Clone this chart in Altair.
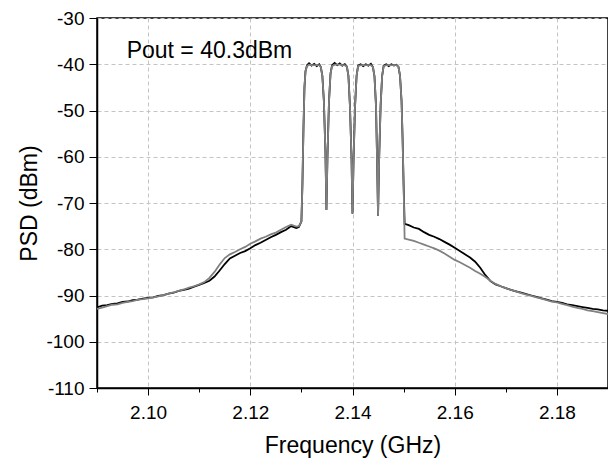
import altair as alt
import pandas as pd

# ---- data ----
# left skirt (GHz, dBm)
left_f = [2.090, 2.091, 2.092, 2.093, 2.094, 2.095, 2.096, 2.097, 2.098, 2.099,
          2.100, 2.101, 2.102, 2.103, 2.104, 2.105, 2.106, 2.107, 2.108, 2.109,
          2.110, 2.111, 2.112, 2.113, 2.114, 2.115, 2.116, 2.117, 2.118, 2.119,
          2.120, 2.121, 2.122, 2.123, 2.124, 2.125, 2.126, 2.127, 2.128, 2.129]
left_black = [-92.6, -92.2, -92.1, -91.8, -91.7, -91.4, -91.3, -91.0, -90.9, -90.7,
              -90.5, -90.4, -90.1, -89.9, -89.6, -89.4, -89.0, -88.8, -88.5, -88.1,
              -87.7, -87.3, -86.8, -85.9, -84.6, -83.2, -82.0, -81.4, -80.8, -80.4,
              -79.8, -79.1, -78.6, -78.0, -77.4, -76.9, -76.3, -75.8, -75.0, -75.4]
left_gray = [-92.9, -92.6, -92.3, -92.0, -91.9, -91.6, -91.4, -91.2, -90.9, -90.8,
             -90.6, -90.4, -90.2, -89.9, -89.6, -89.3, -89.0, -88.7, -88.3, -88.0,
             -87.6, -87.1, -86.2, -84.9, -83.3, -81.9, -81.1, -80.6, -80.0, -79.5,
             -78.8, -78.3, -77.7, -77.3, -76.8, -76.4, -75.8, -75.2, -74.7, -75.1]

# four-carrier band
band_f = [2.1295, 2.1300, 2.1302, 2.1304, 2.1306, 2.1308, 2.1311, 2.1315, 2.1320, 2.1325,
          2.1330, 2.1335, 2.1338, 2.1341, 2.1344, 2.1347, 2.1349, 2.1351, 2.1354, 2.1357,
          2.1360, 2.1365, 2.1370, 2.1375, 2.1380, 2.1385, 2.1389, 2.1392, 2.1395, 2.1398,
          2.1400, 2.1402, 2.1405, 2.1408, 2.1411, 2.1416, 2.1421, 2.1426, 2.1431, 2.1436,
          2.1440, 2.1443, 2.1446, 2.1448, 2.1450, 2.1452, 2.1455, 2.1458, 2.1461, 2.1466,
          2.1471, 2.1476, 2.1481, 2.1486, 2.1490, 2.1493, 2.1496, 2.1498, 2.1500, 2.1502]
band_black = [-75.2, -74.0, -66.0, -54.0, -45.0, -41.5, -40.2, -39.8, -40.3, -39.9,
              -40.4, -40.0, -40.6, -42.5, -48.0, -59.0, -71.5, -60.0, -48.0, -42.0,
              -40.2, -39.7, -40.2, -39.8, -40.3, -40.0, -40.5, -42.5, -49.0, -60.0,
              -72.3, -61.0, -49.0, -42.5, -40.3, -40.0, -40.4, -40.0, -40.3, -39.9,
              -40.6, -42.6, -49.0, -60.0, -72.8, -61.0, -49.0, -42.5, -40.3, -40.0,
              -40.4, -40.0, -40.3, -40.1, -40.6, -42.5, -48.0, -56.0, -66.0, -74.5]
band_gray = [-75.0, -74.0, -66.0, -54.0, -45.0, -41.5, -40.4, -40.1, -40.2, -40.2,
             -40.2, -40.2, -40.6, -42.5, -48.0, -59.0, -71.5, -60.0, -48.0, -42.0,
             -40.4, -40.1, -40.1, -40.1, -40.2, -40.2, -40.5, -42.5, -49.0, -60.0,
             -72.3, -61.0, -49.0, -42.5, -40.4, -40.2, -40.2, -40.2, -40.2, -40.2,
             -40.6, -42.6, -49.0, -60.0, -72.8, -61.0, -49.0, -42.5, -40.4, -40.2,
             -40.2, -40.2, -40.2, -40.2, -40.6, -42.5, -48.0, -56.0, -66.0, -77.7]

# right skirt
right_f = [2.151, 2.152, 2.153, 2.154, 2.155, 2.156, 2.157, 2.158, 2.159, 2.160,
           2.161, 2.162, 2.163, 2.164, 2.165, 2.166, 2.167, 2.168, 2.169, 2.170,
           2.171, 2.172, 2.173, 2.174, 2.175, 2.176, 2.177, 2.178, 2.179, 2.180,
           2.181, 2.182, 2.183, 2.184, 2.185, 2.186, 2.187, 2.188, 2.189, 2.190]
right_black = [-74.8, -75.3, -75.6, -76.3, -76.9, -77.3, -77.8, -78.4, -79.0, -79.7,
               -80.4, -81.1, -81.8, -82.7, -84.0, -85.6, -86.9, -87.6, -88.0, -88.4,
               -88.8, -89.1, -89.4, -89.7, -90.0, -90.3, -90.6, -90.9, -91.2, -91.4,
               -91.6, -91.9, -92.1, -92.3, -92.5, -92.7, -92.9, -93.0, -93.2, -93.3]
right_gray = [-77.9, -78.2, -78.6, -79.0, -79.4, -79.8, -80.3, -80.9, -81.6, -82.3,
              -82.8, -83.4, -84.0, -84.7, -85.3, -86.0, -86.8, -87.5, -88.0, -88.4,
              -88.8, -89.1, -89.5, -89.8, -90.1, -90.4, -90.7, -91.0, -91.3, -91.5,
              -91.8, -92.1, -92.4, -92.7, -92.9, -93.2, -93.4, -93.6, -93.8, -94.0]

x_ticks = [2.09, 2.10, 2.11, 2.12, 2.13, 2.14, 2.15, 2.16, 2.17, 2.18, 2.19]
y_ticks = [-110, -105, -100, -95, -90, -85, -80, -75, -70, -65, -60, -55, -50, -45, -40, -35, -30]

annot_text = ["Pout = 40.3dBm"]
annot_x = [2.0958]
annot_y = [-38.6]

# ---- tables ----
freq = left_f + band_f + right_f
df_black = pd.DataFrame({"f": freq, "psd": left_black + band_black + right_black})
df_gray = pd.DataFrame({"f": freq, "psd": left_gray + band_gray + right_gray})
df_annot = pd.DataFrame({"f": annot_x, "psd": annot_y, "t": annot_text})

FONT = "Liberation Sans"
x_major = "round(datum.value*100) % 2 == 0"
y_major = "datum.value % 10 == 0"

x_scale = alt.Scale(domain=[2.09, 2.19], nice=False, zero=False)
y_scale = alt.Scale(domain=[-110, -30], nice=False, zero=False)

x_axis = alt.Axis(
    values=x_ticks,
    labelExpr=f"{x_major} ? format(datum.value, '.2f') : ''",
    title="Frequency (GHz)",
    tickSize={"condition": {"test": x_major, "value": 7}, "value": 4},
    gridOpacity={"condition": {"test": x_major, "value": 1}, "value": 0},
    labelPadding=8,
    titleY=57,
    titleBaseline="middle",
)
y_axis = alt.Axis(
    values=y_ticks,
    labelExpr=f"{y_major} ? '' + datum.value : ''",
    title="PSD (dBm)",
    tickSize={"condition": {"test": y_major, "value": 8}, "value": 5},
    gridOpacity={"condition": {"test": y_major, "value": 1}, "value": 0},
    labelPadding=5,
    titleX=-68,
    titleY=185,
    titleAngle=270,
    titleAlign="center",
    titleBaseline="middle",
)

black_line = alt.Chart(df_black).mark_line(color="#000000", strokeWidth=1.8, clip=True).encode(
    x=alt.X("f:Q", scale=x_scale, axis=x_axis),
    y=alt.Y("psd:Q", scale=y_scale, axis=y_axis),
    order="f:Q",
)
gray_line = alt.Chart(df_gray).mark_line(color="#808080", strokeWidth=1.8, clip=True).encode(
    x=alt.X("f:Q", scale=x_scale),
    y=alt.Y("psd:Q", scale=y_scale),
    order="f:Q",
)
annot = alt.Chart(df_annot).mark_text(
    align="left", baseline="alphabetic", font=FONT, fontSize=23, color="#000000"
).encode(
    x=alt.X("f:Q", scale=x_scale),
    y=alt.Y("psd:Q", scale=y_scale),
    text="t:N",
)

chart = (
    alt.layer(black_line, gray_line, annot)
    .properties(
        width=511,
        height=370,
        autosize=alt.AutoSizeParams(type="none"),
        padding={"left": 89, "top": 10, "right": 0, "bottom": 70},
        background="#ffffff",
    )
    .configure_view(stroke="#000000", strokeWidth=1.5)
    .configure_axis(
        labelFont=FONT,
        labelFontSize=19,
        labelColor="#000000",
        titleFont=FONT,
        titleFontSize=23,
        titleFontWeight="normal",
        titleColor="#000000",
        domainColor="#000000",
        domainWidth=1.5,
        tickColor="#000000",
        tickWidth=1,
        gridColor="#c4c4c4",
        gridDash=[4, 3],
        gridWidth=1,
    )
)

chart.save("out.html", embed_options={"renderer": "svg", "actions": False})
